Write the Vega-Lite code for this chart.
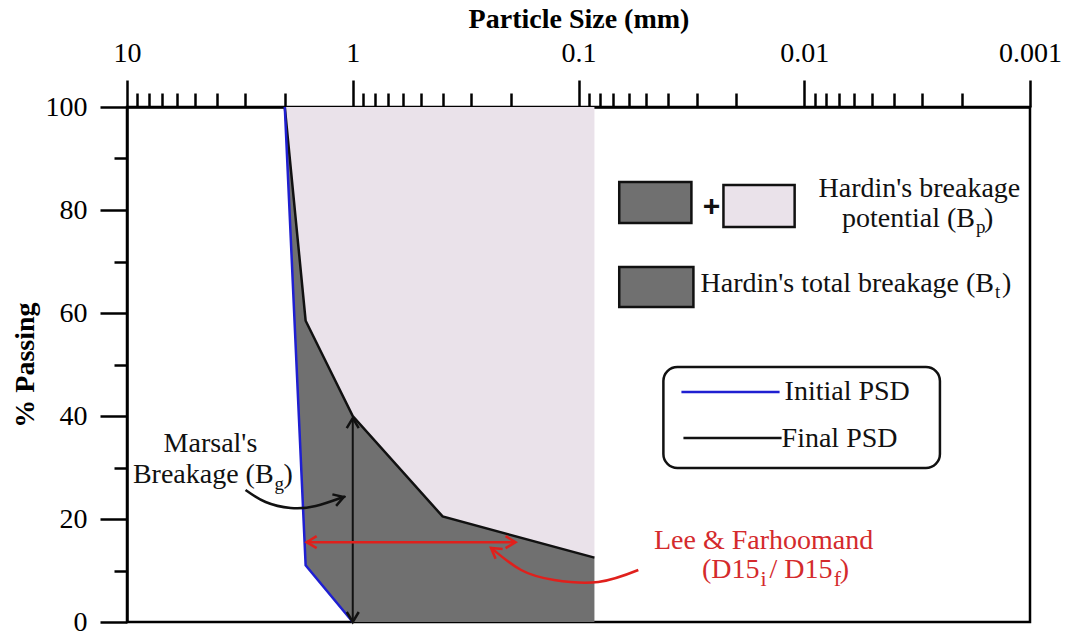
{
  "$schema": "https://vega.github.io/schema/vega-lite/v6.json",
  "width": 903,
  "height": 515,
  "autosize": {"type": "none"},
  "padding": {"left": 127, "top": 107, "right": 37, "bottom": 15},
  "background": "white",
  "config": {
    "font": "Liberation Serif",
    "view": {"stroke": "black", "strokeWidth": 2.5},
    "axis": {"grid": false, "domainColor": "black", "domainWidth": 2.5, "tickColor": "black", "tickWidth": 2.5, "labelColor": "black", "labelFont": "Liberation Serif", "labelFontSize": 28, "titleFont": "Liberation Serif", "titleFontSize": 28, "titleFontWeight": "bold", "titleColor": "black", "labelFlush": false, "labelOverlap": false}
  },
  "layer": [
    {
      "data": {"values": [{"size": 2, "pct": 100}, {"size": 1.617, "pct": 58.5}, {"size": 1, "pct": 40}, {"size": 0.4, "pct": 20.5}, {"size": 0.085, "pct": 12.5}]},
      "mark": {"type": "area", "color": "#eae2ea", "opacity": 1},
      "encoding": {
        "x": {"field": "size", "type": "quantitative",
          "scale": {"type": "log", "domain": [0.001, 10], "reverse": true, "nice": false},
          "axis": {"orient": "top", "title": "Particle Size (mm)",
            "values": [10, 9, 8, 7, 6, 5, 4, 3, 2, 1, 0.9, 0.8, 0.7, 0.6, 0.5, 0.4, 0.3, 0.2, 0.1, 0.09, 0.08, 0.07, 0.06, 0.05, 0.04, 0.03, 0.02, 0.01, 0.009, 0.008, 0.007, 0.006, 0.005, 0.004, 0.003, 0.002, 0.001],
            "labelExpr": "abs(log(datum.value)/LN10 - round(log(datum.value)/LN10)) < 0.01 ? format(datum.value, '~g') : ''",
            "tickSize": {"condition": {"test": "abs(log(datum.value)/LN10 - round(log(datum.value)/LN10)) < 0.01", "value": 27}, "value": 14},
            "labelPadding": 13, "titlePadding": 6}},
        "y": {"field": "pct", "type": "quantitative",
          "scale": {"domain": [0, 100], "nice": false},
          "axis": {"orient": "left", "title": "% Passing",
            "values": [0, 10, 20, 30, 40, 50, 60, 70, 80, 90, 100],
            "labelExpr": "datum.value % 20 === 0 ? datum.label : ''",
            "tickSize": {"condition": {"test": "datum.value % 20 === 0", "value": 27}, "value": 13},
            "labelPadding": 13, "titlePadding": 6}},
        "y2": {"datum": 100}
      }
    },
    {
      "data": {"values": [{"size": 2, "pct": 100, "low": 100}, {"size": 1.617, "pct": 58.5, "low": 11}, {"size": 1, "pct": 40, "low": 0}, {"size": 0.4, "pct": 20.5, "low": 0}, {"size": 0.085, "pct": 12.5, "low": 0}]},
      "mark": {"type": "area", "color": "#707070", "opacity": 1},
      "encoding": {
        "x": {"field": "size", "type": "quantitative"},
        "y": {"field": "pct", "type": "quantitative"},
        "y2": {"field": "low"}
      }
    },
    {
      "data": {"values": [
        {"size": 2, "pct": 100, "series": "Final"}, {"size": 1.617, "pct": 58.5, "series": "Final"}, {"size": 1, "pct": 40, "series": "Final"}, {"size": 0.4, "pct": 20.5, "series": "Final"}, {"size": 0.085, "pct": 12.5, "series": "Final"},
        {"size": 2, "pct": 100, "series": "Initial"}, {"size": 1.617, "pct": 11, "series": "Initial"}, {"size": 1, "pct": 0, "series": "Initial"}
      ]},
      "mark": {"type": "line", "strokeWidth": 2.5},
      "encoding": {
        "x": {"field": "size", "type": "quantitative"},
        "y": {"field": "pct", "type": "quantitative"},
        "color": {"field": "series", "type": "nominal", "scale": {"domain": ["Final", "Initial"], "range": ["#111111", "#1f1fd1"]}, "legend": null}
      }
    },
    {
      "data": {"values": [{"size": 1, "pct": 0.3, "pct2": 39.3}]},
      "mark": {"type": "rule", "color": "#111111", "strokeWidth": 2},
      "encoding": {"x": {"field": "size", "type": "quantitative"}, "y": {"field": "pct", "type": "quantitative"}, "y2": {"field": "pct2"}}
    },
    {
      "data": {"values": [{"size": 1.6, "size2": 0.19, "pct": 15.5}]},
      "mark": {"type": "rule", "color": "#e0201c", "strokeWidth": 2.5},
      "encoding": {"x": {"field": "size", "type": "quantitative"}, "x2": {"field": "size2"}, "y": {"field": "pct", "type": "quantitative"}}
    },
    {
      "data": {"values": [{"size": 2.985, "pct": 25.63}, {"size": 2.433, "pct": 23.3}, {"size": 1.884, "pct": 22.14}, {"size": 1.459, "pct": 22.52}, {"size": 1.131, "pct": 24.08}, {"size": 1.096, "pct": 24.27}]},
      "mark": {"type": "line", "color": "#111111", "strokeWidth": 2.5, "interpolate": "natural"},
      "encoding": {"x": {"field": "size", "type": "quantitative"}, "y": {"field": "pct", "type": "quantitative"}}
    },
    {
      "data": {"values": [{"size": 0.05433, "pct": 10.1}, {"size": 0.08177, "pct": 7.77}, {"size": 0.1282, "pct": 8.16}, {"size": 0.1796, "pct": 10.1}, {"size": 0.2318, "pct": 13.59}, {"size": 0.2441, "pct": 14.37}]},
      "mark": {"type": "line", "color": "#e0201c", "strokeWidth": 2.5, "interpolate": "natural"},
      "encoding": {"x": {"field": "size", "type": "quantitative"}, "y": {"field": "pct", "type": "quantitative"}}
    },
    {
      "data": {"values": [{"size": 1, "pct": 39.6}]},
      "mark": {"type": "point", "shape": "M-1,-0.6L0,0L-1,0.6", "filled": false, "size": 400, "strokeWidth": 2.5, "color": "#111111", "opacity": 1, "angle": -90},
      "encoding": {"x": {"field": "size", "type": "quantitative"}, "y": {"field": "pct", "type": "quantitative"}}
    },
    {
      "data": {"values": [{"size": 1, "pct": 0}]},
      "mark": {"type": "point", "shape": "M-1,-0.6L0,0L-1,0.6", "filled": false, "size": 400, "strokeWidth": 2.5, "color": "#111111", "opacity": 1, "angle": 90},
      "encoding": {"x": {"field": "size", "type": "quantitative"}, "y": {"field": "pct", "type": "quantitative"}}
    },
    {
      "data": {"values": [{"size": 1.096, "pct": 24.27}]},
      "mark": {"type": "point", "shape": "M-1,-0.6L0,0L-1,0.6", "filled": false, "size": 400, "strokeWidth": 2.5, "color": "#111111", "opacity": 1, "angle": -18},
      "encoding": {"x": {"field": "size", "type": "quantitative"}, "y": {"field": "pct", "type": "quantitative"}}
    },
    {
      "data": {"values": [{"size": 1.6, "pct": 15.5}]},
      "mark": {"type": "point", "shape": "M-1,-0.6L0,0L-1,0.6", "filled": false, "size": 400, "strokeWidth": 2.5, "color": "#e0201c", "opacity": 1, "angle": 180},
      "encoding": {"x": {"field": "size", "type": "quantitative"}, "y": {"field": "pct", "type": "quantitative"}}
    },
    {
      "data": {"values": [{"size": 0.19, "pct": 15.5}]},
      "mark": {"type": "point", "shape": "M-1,-0.6L0,0L-1,0.6", "filled": false, "size": 400, "strokeWidth": 2.5, "color": "#e0201c", "opacity": 1, "angle": 0},
      "encoding": {"x": {"field": "size", "type": "quantitative"}, "y": {"field": "pct", "type": "quantitative"}}
    },
    {
      "data": {"values": [{"size": 0.2441, "pct": 14.37}]},
      "mark": {"type": "point", "shape": "M-1,-0.6L0,0L-1,0.6", "filled": false, "size": 400, "strokeWidth": 2.5, "color": "#e0201c", "opacity": 1, "angle": -144},
      "encoding": {"x": {"field": "size", "type": "quantitative"}, "y": {"field": "pct", "type": "quantitative"}}
    },
    {
      "data": {"values": [{"size": 0.066, "size2": 0.03161, "pct": 85.44, "pct2": 77.48}, {"size": 0.066, "size2": 0.03097, "pct": 68.93, "pct2": 61.17}]},
      "mark": {"type": "rect", "fill": "#707070", "stroke": "#111111", "strokeWidth": 2.5},
      "encoding": {"x": {"field": "size", "type": "quantitative"}, "x2": {"field": "size2"}, "y": {"field": "pct", "type": "quantitative"}, "y2": {"field": "pct2"}}
    },
    {
      "data": {"values": [{"size": 0.0228, "size2": 0.01103, "pct": 84.85, "pct2": 76.7}]},
      "mark": {"type": "rect", "fill": "#eae2ea", "stroke": "#111111", "strokeWidth": 2.5},
      "encoding": {"x": {"field": "size", "type": "quantitative"}, "x2": {"field": "size2"}, "y": {"field": "pct", "type": "quantitative"}, "y2": {"field": "pct2"}}
    },
    {
      "data": {"values": [{"size": 0.04207, "size2": 0.002506, "pct": 49.51, "pct2": 29.9}]},
      "mark": {"type": "rect", "fill": "white", "stroke": "#111111", "strokeWidth": 2.5, "cornerRadius": 14},
      "encoding": {"x": {"field": "size", "type": "quantitative"}, "x2": {"field": "size2"}, "y": {"field": "pct", "type": "quantitative"}, "y2": {"field": "pct2"}}
    },
    {
      "data": {"values": [{"size": 0.035, "pct": 44.66, "series": "Initial"}, {"size": 0.01286, "pct": 44.66, "series": "Initial"}, {"size": 0.03429, "pct": 35.73, "series": "Final"}, {"size": 0.0126, "pct": 35.73, "series": "Final"}]},
      "mark": {"type": "line", "strokeWidth": 2.5},
      "encoding": {
        "x": {"field": "size", "type": "quantitative"},
        "y": {"field": "pct", "type": "quantitative"},
        "color": {"field": "series", "type": "nominal", "legend": null}
      }
    },
    {
      "data": {"values": [{"size": 4.269, "pct": 33.0, "label": "Marsal's"}, {"size": 0.00309, "pct": 82.52, "label": "Hardin's breakage"}]},
      "mark": {"type": "text", "font": "Liberation Serif", "fontSize": 28, "color": "#111111", "align": "center", "baseline": "alphabetic"},
      "encoding": {"x": {"field": "size", "type": "quantitative"}, "y": {"field": "pct", "type": "quantitative"}, "text": {"field": "label"}}
    },
    {
      "data": {"values": [{"size": 2.242, "pct": 26.99, "label": "Breakage (B"}, {"size": 0.001752, "pct": 76.7, "label": "potential (B"}, {"size": 0.001443, "pct": 64.08, "label": "Hardin's total breakage (B"}]},
      "mark": {"type": "text", "font": "Liberation Serif", "fontSize": 28, "color": "#111111", "align": "right", "baseline": "alphabetic"},
      "encoding": {"x": {"field": "size", "type": "quantitative"}, "y": {"field": "pct", "type": "quantitative"}, "text": {"field": "label"}}
    },
    {
      "data": {"values": [{"size": 2.219, "pct": 25.63, "label": "g"}, {"size": 0.001735, "pct": 75.5, "label": "p"}, {"size": 0.001428, "pct": 62.91, "label": "t"}]},
      "mark": {"type": "text", "font": "Liberation Serif", "fontSize": 19, "color": "#111111", "align": "left", "baseline": "alphabetic"},
      "encoding": {"x": {"field": "size", "type": "quantitative"}, "y": {"field": "pct", "type": "quantitative"}, "text": {"field": "label"}}
    },
    {
      "data": {"values": [{"size": 2.024, "pct": 26.99, "label": ")"}, {"size": 0.001598, "pct": 76.7, "label": ")"}, {"size": 0.00133, "pct": 64.08, "label": ")"}, {"size": 0.01222, "pct": 43.11, "label": "Initial PSD"}, {"size": 0.0126, "pct": 33.98, "label": "Final PSD"}]},
      "mark": {"type": "text", "font": "Liberation Serif", "fontSize": 28, "color": "#111111", "align": "left", "baseline": "alphabetic"},
      "encoding": {"x": {"field": "size", "type": "quantitative"}, "y": {"field": "pct", "type": "quantitative"}, "text": {"field": "label"}}
    },
    {
      "data": {"values": [{"size": 0.02576, "pct": 80.58, "label": "+"}]},
      "mark": {"type": "text", "font": "Liberation Sans", "fontSize": 30, "fontWeight": "bold", "color": "#111111", "align": "center", "baseline": "middle"},
      "encoding": {"x": {"field": "size", "type": "quantitative"}, "y": {"field": "pct", "type": "quantitative"}, "text": {"field": "label"}}
    },
    {
      "data": {"values": [{"size": 0.01514, "pct": 14.2, "label": "Lee & Farhoomand"}]},
      "mark": {"type": "text", "font": "Liberation Serif", "fontSize": 28, "color": "#d42a2c", "align": "center", "baseline": "alphabetic"},
      "encoding": {"x": {"field": "size", "type": "quantitative"}, "y": {"field": "pct", "type": "quantitative"}, "text": {"field": "label"}}
    },
    {
      "data": {"values": [{"size": 0.01577, "pct": 8.55, "label": "(D15"}]},
      "mark": {"type": "text", "font": "Liberation Serif", "fontSize": 28, "color": "#d42a2c", "align": "right", "baseline": "alphabetic"},
      "encoding": {"x": {"field": "size", "type": "quantitative"}, "y": {"field": "pct", "type": "quantitative"}, "text": {"field": "label"}}
    },
    {
      "data": {"values": [{"size": 0.01424, "pct": 8.55, "label": "/ D15"}, {"size": 0.006965, "pct": 8.55, "label": ")"}]},
      "mark": {"type": "text", "font": "Liberation Serif", "fontSize": 28, "color": "#d42a2c", "align": "left", "baseline": "alphabetic"},
      "encoding": {"x": {"field": "size", "type": "quantitative"}, "y": {"field": "pct", "type": "quantitative"}, "text": {"field": "label"}}
    },
    {
      "data": {"values": [{"size": 0.01562, "pct": 7.0, "label": "i"}, {"size": 0.007405, "pct": 7.0, "label": "f"}]},
      "mark": {"type": "text", "font": "Liberation Serif", "fontSize": 22, "color": "#d42a2c", "align": "left", "baseline": "alphabetic"},
      "encoding": {"x": {"field": "size", "type": "quantitative"}, "y": {"field": "pct", "type": "quantitative"}, "text": {"field": "label"}}
    }
  ]
}
